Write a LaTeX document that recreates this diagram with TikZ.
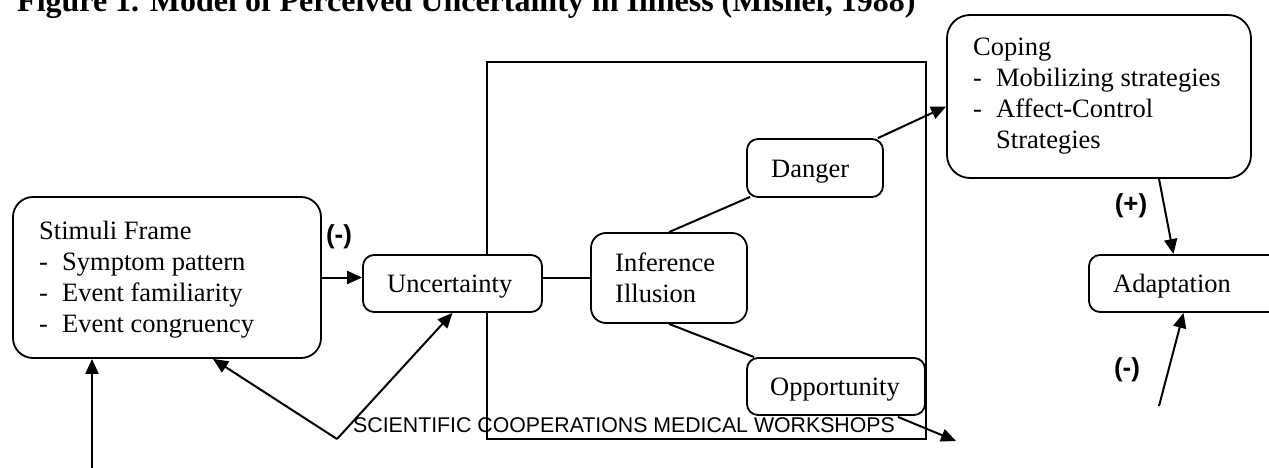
\documentclass[tikz,border=0pt]{standalone}
\usepackage{fontspec}
\setmainfont{Liberation Serif}
\setsansfont{Liberation Sans}
\usepackage{tikz}
\usetikzlibrary{arrows.meta,calc}

\newcommand{\itm}[1]{\makebox[23pt][l]{-}#1}

\tikzset{
  box/.style={draw, fill=white, line width=1.8pt, rounded corners=11pt, inner sep=0pt},
  txt/.style={font=\fontsize{26.5}{31}\selectfont, inner sep=0pt, align=left, anchor=base west},
  sign/.style={font=\sffamily\bfseries\fontsize{26}{30}\selectfont, inner sep=0pt},
  arr/.style={line width=2pt, -{Triangle[length=15pt,width=13pt]}},
  link/.style={line width=2pt}
}

\begin{document}
\begin{tikzpicture}[x=1pt,y=1pt,yscale=-1]
\clip (0,0) rectangle (1269,468);

% title, cut at the top
\node[anchor=base west, inner sep=0pt, font=\bfseries\fontsize{32}{36}\selectfont] (title) at (17,12) {Figure 1. Model of Perceived Uncertainty in Illness (Mishel, 1988)};

% frame round the appraisal
\draw[line width=1.8pt] (487,62) rectangle (926,439);

%Shape: boxes
\node[box, rounded corners=20pt, minimum width=308, minimum height=161] (stim) at (167,277.5) {};
\node[box, minimum width=179, minimum height=57] (unc) at (452.5,283.5) {};
\node[box, rounded corners=15pt, minimum width=156, minimum height=90] (inf) at (669,278) {};
\node[box, minimum width=136, minimum height=58] (dan) at (815,168) {};
\node[box, minimum width=178, minimum height=57] (opp) at (836,386.5) {};
\node[box, rounded corners=23pt, minimum width=304, minimum height=163] (cop) at (1099,96.5) {};
\node[box, minimum width=201, minimum height=57] (ada) at (1189.5,283.5) {};

% Text Node (anchored at the baseline of the last line)
\node[txt] (stimtxt) at (39,332) {Stimuli Frame\\\itm{Symptom pattern}\\\itm{Event familiarity}\\\itm{Event congruency}};
\node[txt] (unctxt) at (387,292) {Uncertainty};
\node[txt] (inftxt) at (615,302) {Inference\\Illusion};
\node[txt] (dantxt) at (771,177) {Danger};
\node[txt] (opptxt) at (770,395) {Opportunity};
\node[txt] (coptxt) at (973,149) {Coping\\\itm{Mobilizing strategies}\\\itm{Affect-Control}\\\hspace*{23pt}Strategies};
\node[txt] (adatxt) at (1113,292) {Adaptation};
\node[anchor=base west, inner sep=0pt, font=\sffamily\fontsize{21.3}{24}\selectfont] (wm) at (353,432) {SCIENTIFIC COOPERATIONS MEDICAL WORKSHOPS};

% signs
\node[sign] (s1) at (339,237) {(-)};
\node[sign] (s2) at (1131,206) {(+)};
\node[sign] (s3) at (1127,370) {(-)};

% free ends
\coordinate (low) at (92,468);
\coordinate (vtip) at (337,439);
\coordinate (oppend) at (956,441);
\coordinate (adain) at (1159,406);

%Straight Lines
\draw[arr] (stim.east) -- (stim.east -| unc.west);
\draw[link] (unc.east |- inf.west) -- (inf.west);
\draw[link] (inf.north) -- ($(dan.south west)+(4,-1)$);
\draw[link] (inf.south) -- ($(opp.north west)+(8,0)$);
\draw[arr] ($(dan.north east)+(-6,0)$) -- ($(cop.west)+(0,10)$);
\draw[arr] ($(cop.south)+(60,0)$) -- ($(ada.north)+(-16,0)$);
\draw[arr] (adain) -- ($(ada.south)+(-6,0)$);
\draw[arr] ($(opp.south east)+(-28,1)$) -- (oppend);
\draw[arr] (low) -- (low |- stim.south);
\draw[arr] (vtip) -- ($(stim.south)+(46,0)$);
\draw[arr] (vtip) -- (unc.south);

\end{tikzpicture}
\end{document}
